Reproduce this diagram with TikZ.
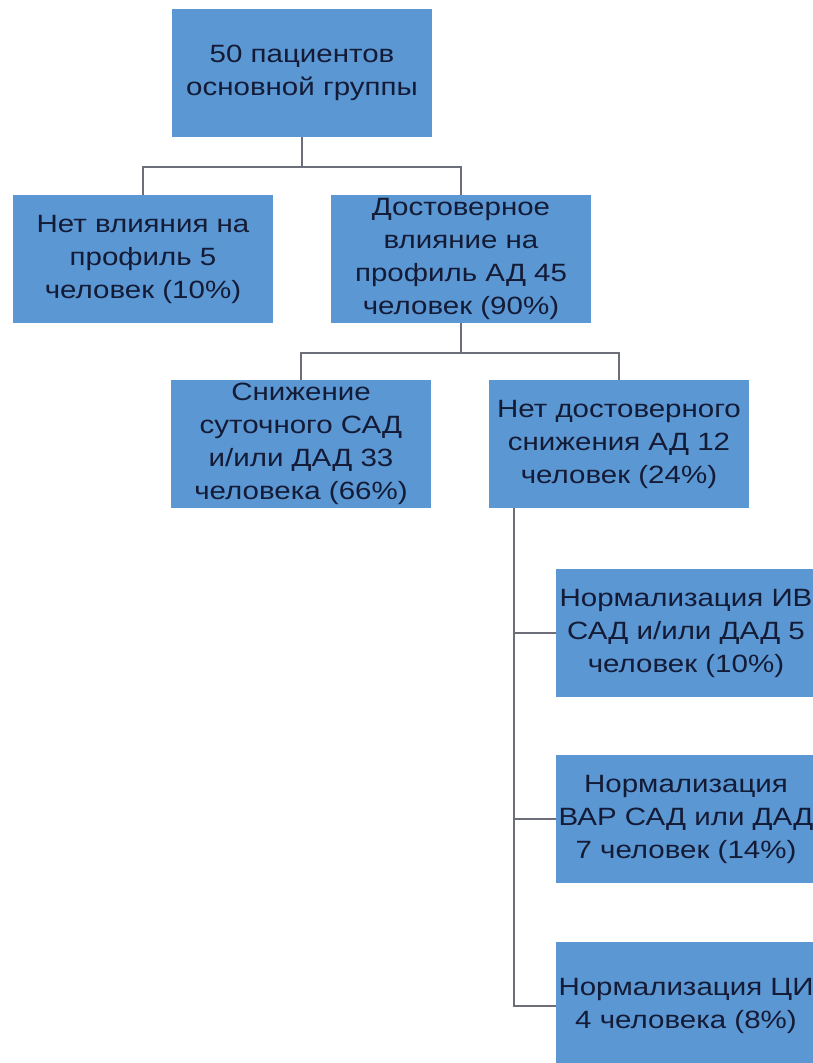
\documentclass[tikz,border=0pt]{standalone}
\usepackage{fontspec}
\setmainfont{Liberation Sans}[FakeStretch=1.18]
\usepackage{tikz}
\definecolor{boxfill}{HTML}{5B97D3}
\definecolor{ink}{HTML}{141B36}
\definecolor{wire}{HTML}{6C6F7A}
\tikzset{
  box/.style={fill=boxfill,draw=none,minimum width=260,minimum height=128,inner sep=2pt,align=center,text=ink,font=\fontsize{25}{33}\selectfont},
  conn/.style={draw=wire,line width=2pt},
}
\begin{document}
\begin{tikzpicture}[x=1pt,y=-1pt]
\clip (0,0) rectangle (813,1063);
\fill[white] (0,0) rectangle (813,1063);
\node[box] (p50) at (302,73) {50 пациентов\\основной группы};
\node[box] (none) at (143,259) {Нет влияния на\\профиль 5\\человек (10\%)};
\node[box] (sig) at (461,259) {Достоверное\\влияние на\\профиль АД 45\\человек (90\%)};
\node[box] (dec) at (301,444) {Снижение\\суточного САД\\и/или ДАД 33\\человека (66\%)};
\node[box] (nodec) at (619,444) {Нет достоверного\\снижения АД 12\\человек (24\%)};
\node[box] (norm1) at (686,633) {Нормализация ИВ\\САД и/или ДАД 5\\человек (10\%)};
\node[box] (norm2) at (686,819) {Нормализация\\ВАР САД или ДАД\\7 человек (14\%)};
\node[box] (norm3) at (686,1006) {Нормализация ЦИ\\4 человека (8\%)};
% connectors
\draw[conn] (p50.south) -- ++(0,30) coordinate (j1);
\draw[conn] (j1) -| (none.north);
\draw[conn] (j1) -| (sig.north);
\draw[conn] (sig.south) -- ++(0,30) coordinate (j2);
\draw[conn] (j2) -| (dec.north);
\draw[conn] (j2) -| (nodec.north);
\foreach \n in {norm1,norm2,norm3}
  \draw[conn] (nodec.south west) ++(25,0) |- (\n.west);
\end{tikzpicture}
\end{document}
